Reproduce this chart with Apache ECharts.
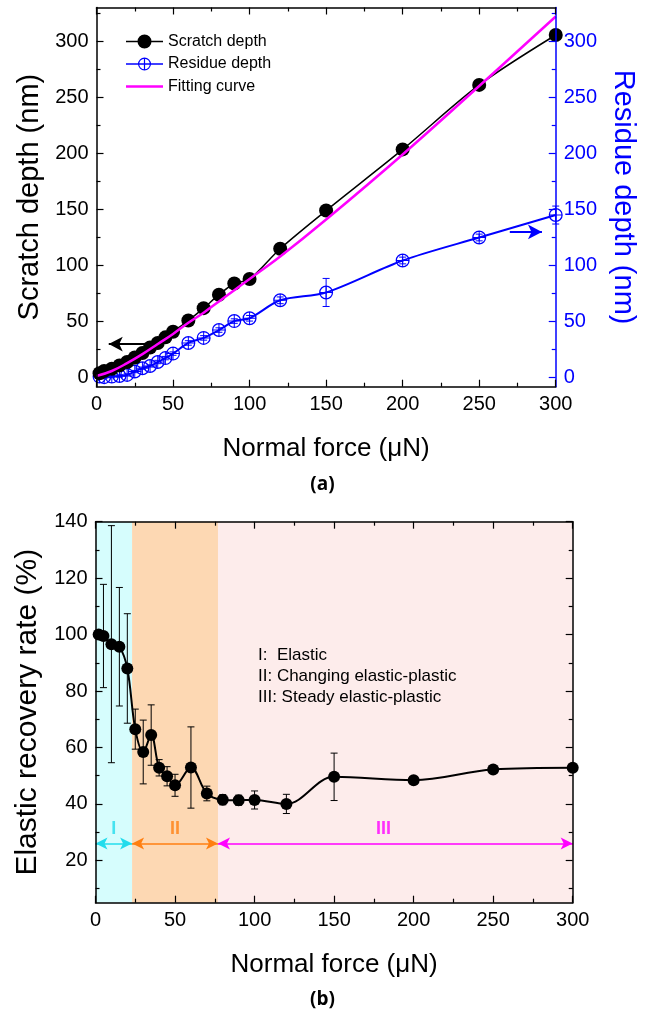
<!DOCTYPE html>
<html><head><meta charset="utf-8">
<script src="https://cdn.jsdelivr.net/npm/echarts@6/dist/echarts.min.js"></script>
<style>html,body{margin:0;padding:0;background:#fff}#c{width:645px;height:1016px}</style>
</head><body><div id="c"></div>
<script>
// ---------- data (a) ----------
const force = [2,5,10,15,20,25,30,35,40,45,50,60,70,80,90,100,120,150,200,250,300];
const scratchDepth = [4,6,8,11,14,18,22,27,31,36,41,51,62,74,84,88,115,149,203.5,261,305.5];
const residueDepth = [1,0.5,1,1.5,2.5,5.5,8.5,10.5,14,17.5,21.5,31,35.5,42.5,50.5,53,69,76,104.5,125,145];
const residueErr   = [1,1,1,1,1,1,1,1,1.5,1.5,1.5,2,2,2,2,2.5,3,12.5,3,3,8];
const fitForce = [0,10,20,30,40,50,60,70,80,90,100,120,150,200,250,300];
const fitDepth = [1.5,6,13,21,30,39,49,58,68,78,88,108,141,199,260,322];
const depthTicks = [0,50,100,150,200,250,300];
const depthMinor = [25,75,125,175,225,275,325];
// ---------- data (b) ----------
const recovery    = [100,99.5,96.6,95.7,88,66.5,58.4,64.4,52.8,49.8,46.6,52.9,43.7,41.5,41.3,41.4,40,49.6,48.4,52.2,52.8];
const recoveryErr = [0,18.3,42,21,19.4,7.1,11.3,10.7,2.9,3.4,3.9,14.4,2.6,1.8,1.8,3.2,3.4,8.4,0.8,0.8,1];
const rateTicks = [20,40,60,80,100,120,140];
const rateMinor = [10,30,50,70,90,110,130];
const regionEdges = [0,23,77,300];
const regionNames = ['I','II','III'];
const regionLabelX = [11.5,50,181];
const regionColors = ['#d6fdfd','#fdd8b3','#fdeceb'];
const arrowColors = ['#22dcec','#ff7f10','#ff00ff'];
const arrowLevel = 26, regionLabelLevel = 31;
const notes = ['I:  Elastic','II: Changing elastic-plastic','III: Steady elastic-plastic'];

const FF = 'Liberation Sans, Arial, sans-serif';
const ring = 'path://M0 10A10 10 0 1 1 20 10A10 10 0 1 1 0 10ZM1.8 10A8.2 8.2 0 1 0 18.2 10A8.2 8.2 0 1 0 1.8 10ZM9.3 1.8L10.7 1.8L10.7 18.2L9.3 18.2ZM1.8 9.3L18.2 9.3L18.2 10.7L1.8 10.7Z';
const iconScratch = 'path://M0 0M37 14M0 6.3L37 6.3L37 7.7L0 7.7ZM11.5 7A7 7 0 1 1 25.5 7A7 7 0 1 1 11.5 7Z';
const iconResidue = 'path://M0 0M37 14M0 6.2L37 6.2L37 7.8L0 7.8ZM12 7A6.5 6.5 0 1 1 25 7A6.5 6.5 0 1 1 12 7ZM13.2 7A5.3 5.3 0 1 0 23.8 7A5.3 5.3 0 1 0 13.2 7ZM17.9 1.7L19.1 1.7L19.1 12.3L17.9 12.3Z';
const iconFit = 'path://M0 0M37 14M0 5.8L37 5.8L37 8.2L0 8.2Z';

function errRender(color, cap) {
  return function (params, api) {
    const x = api.value(0), lo = api.value(1), hi = api.value(2);
    if (hi - lo <= 0) return null;
    const a = api.coord([x, lo]), b = api.coord([x, hi]);
    const st = {stroke: color, lineWidth: 1, fill: null};
    return {type: 'group', children: [
      {type: 'line', shape: {x1: a[0], y1: a[1], x2: b[0], y2: b[1]}, style: st},
      {type: 'line', shape: {x1: a[0]-cap, y1: a[1], x2: a[0]+cap, y2: a[1]}, style: st},
      {type: 'line', shape: {x1: b[0]-cap, y1: b[1], x2: b[0]+cap, y2: b[1]}, style: st}
    ]};
  };
}

const G0 = {left: 96.5, top: 7.5, width: 465.5, height: 379.2};
const G1 = {left: 95.5, top: 521.7, width: 477.2, height: 381};

function xAx(grid, pos, labels, name) {
  return {
    type: 'value', gridIndex: grid, position: pos, min: 0, max: 300, interval: 50, z: 10,
    axisLine: {show: true, onZero: false, lineStyle: {color: '#000', width: 1.5}},
    axisTick: {show: true, inside: true, length: 7, lineStyle: {color: '#000', width: 1.2}},
    minorTick: {show: true, splitNumber: 2, length: 4, lineStyle: {color: '#000', width: 1.2}},
    axisLabel: {show: labels, margin: 8, color: '#000', fontSize: 20, fontFamily: FF},
    splitLine: {show: false}, minorSplitLine: {show: false},
    name: name || '', nameLocation: 'middle', nameGap: 49,
    nameTextStyle: {color: '#000', fontSize: 26, fontFamily: FF}
  };
}
function yAx(grid, pos, min, max, vals, major, labels, color, name, extra) {
  const o = {
    type: 'value', gridIndex: grid, position: pos, min: min, max: max, z: 10,
    axisLine: {show: major, onZero: false, lineStyle: {color: color, width: 1.5}},
    axisTick: {show: true, inside: true, length: major ? 7 : 4, customValues: vals, lineStyle: {color: color, width: 1.2}},
    axisLabel: {show: labels, customValues: vals, margin: 8, color: color, fontSize: 20, fontFamily: FF},
    splitLine: {show: false},
    name: name || '', nameLocation: 'middle', nameGap: 50,
    nameTextStyle: {color: color, fontSize: 29, fontFamily: FF}
  };
  return Object.assign(o, extra || {});
}

const option = {
  animation: false,
  backgroundColor: '#fff',
  grid: [G0, G1],
  legend: {
    left: 126, top: 33.5, padding: 0, orient: 'vertical', itemWidth: 37, itemHeight: 14, itemGap: 6.5,
    data: [
      {name: 'Scratch depth', icon: iconScratch},
      {name: 'Residue depth', icon: iconResidue},
      {name: 'Fitting curve', icon: iconFit}
    ],
    textStyle: {color: '#000', fontSize: 16, fontFamily: FF}
  },
  xAxis: [
    xAx(0, 'bottom', true, 'Normal force (\u03bcN)'),
    xAx(0, 'top', false),
    xAx(1, 'bottom', true, 'Normal force (\u03bcN)'),
    xAx(1, 'top', false)
  ],
  yAxis: [
    yAx(0, 'left', -8, 330, depthTicks, true, true, '#000', 'Scratch depth (nm)'),
    yAx(0, 'left', -8, 330, depthMinor, false, false, '#000'),
    yAx(0, 'right', -8, 330, depthTicks, true, true, '#0000ff', 'Residue depth (nm)', {nameRotate: -90}),
    yAx(0, 'right', -8, 330, depthMinor, false, false, '#0000ff'),
    yAx(1, 'left', 5, 140, rateTicks, true, true, '#000', 'Elastic recovery rate (%)', {nameGap: 52, nameTextStyle: {color: '#000', fontSize: 30, fontFamily: FF}}),
    yAx(1, 'left', 5, 140, rateMinor, false, false, '#000'),
    yAx(1, 'right', 5, 140, rateTicks, true, false, '#000'),
    yAx(1, 'right', 5, 140, rateMinor, false, false, '#000')
  ],
  graphic: [
    {type: 'text', z: 50, left: 'center', top: 475, style: {text: '(a)', font: 'bold 19px "Open Sans", sans-serif', fill: '#000'}},
    {type: 'text', z: 50, left: 'center', top: 990, style: {text: '(b)', font: 'bold 19px "Open Sans", sans-serif', fill: '#000'}},
    {type: 'text', z: 50, left: 258, top: 645, style: {text: notes.join('\n'), font: '17px ' + FF, lineHeight: 21, fill: '#000'}}
  ],
  series: [
    // ----- (a) -----
    {
      type: 'custom', name: 'resErr', xAxisIndex: 0, yAxisIndex: 2, z: 2,
      renderItem: errRender('#0000ff', 3.5), encode: {x: 0, y: [1, 2]},
      data: force.map((f, i) => [f, residueDepth[i] - residueErr[i], residueDepth[i] + residueErr[i]])
    },
    {
      type: 'line', name: 'Residue depth', xAxisIndex: 0, yAxisIndex: 2, z: 2,
      data: force.map((f, i) => [f, residueDepth[i]]), smooth: 0.3,
      symbol: ring, symbolSize: 14, itemStyle: {color: '#0000ff'},
      lineStyle: {color: '#0000ff', width: 2},
      markLine: {
        silent: true, symbol: ['none', 'arrow'], symbolSize: [11, 14], label: {show: false},
        lineStyle: {color: '#0000ff', width: 2, type: 'solid'},
        data: [[{coord: [270, 130]}, {coord: [291, 130]}]]
      }
    },
    {
      type: 'line', name: 'Scratch depth', xAxisIndex: 0, yAxisIndex: 0, z: 3,
      data: force.map((f, i) => [f, scratchDepth[i]]), smooth: 0.3,
      symbol: 'circle', symbolSize: 14, itemStyle: {color: '#000'},
      lineStyle: {color: '#000', width: 1.5},
      markLine: {
        silent: true, symbol: ['none', 'arrow'], symbolSize: [11, 14], label: {show: false},
        lineStyle: {color: '#000', width: 2, type: 'solid'},
        data: [[{coord: [34, 30]}, {coord: [8, 30]}]]
      }
    },
    {
      type: 'line', name: 'Fitting curve', xAxisIndex: 0, yAxisIndex: 0, z: 4,
      data: fitForce.map((f, i) => [f, fitDepth[i]]), smooth: 0.4,
      symbol: 'none', lineStyle: {color: '#ff00ff', width: 2.5}, itemStyle: {color: '#ff00ff'}
    },
    // ----- (b) -----
    {
      type: 'line', name: 'bands', xAxisIndex: 2, yAxisIndex: 4, z: 0, silent: true,
      data: [], symbol: 'none',
      markArea: {
        silent: true,
        data: regionNames.map((n, i) => [
          {xAxis: regionEdges[i], itemStyle: {color: regionColors[i], opacity: 1}},
          {xAxis: regionEdges[i + 1]}
        ])
      }
    },
    {
      type: 'line', name: 'arrows', xAxisIndex: 2, yAxisIndex: 4, z: 3, silent: true,
      data: [], symbol: 'none',
      markLine: {
        silent: true, symbol: ['arrow', 'arrow'], symbolSize: [9, 12], label: {show: false},
        data: regionNames.map((n, i) => [
          {coord: [regionEdges[i], arrowLevel], lineStyle: {color: arrowColors[i], width: 1.5, type: 'solid'}},
          {coord: [regionEdges[i + 1], arrowLevel]}
        ])
      }
    },
    {
      type: 'scatter', name: 'regionLabels', xAxisIndex: 2, yAxisIndex: 4, z: 3, silent: true,
      symbolSize: 0,
      data: regionNames.map((n, i) => ({value: [regionLabelX[i], regionLabelLevel], name: n,
        label: {show: true, formatter: n, position: 'inside', color: arrowColors[i],
          fontSize: 18, fontWeight: 'bold', fontFamily: FF}}))
    },
    {
      type: 'custom', name: 'recErr', xAxisIndex: 2, yAxisIndex: 4, z: 4,
      renderItem: errRender('#000', 3.5), encode: {x: 0, y: [1, 2]},
      data: force.map((f, i) => [f, recovery[i] - recoveryErr[i], recovery[i] + recoveryErr[i]])
    },
    {
      type: 'line', name: 'Elastic recovery rate', xAxisIndex: 2, yAxisIndex: 4, z: 5,
      data: force.map((f, i) => [f, recovery[i]]), smooth: 0.35,
      symbol: 'circle', symbolSize: 12, itemStyle: {color: '#000'},
      lineStyle: {color: '#000', width: 2}
    }
  ]
};
const chart = echarts.init(document.getElementById('c'), null, {renderer: 'canvas'});
chart.setOption(option);
</script>
</body></html>
